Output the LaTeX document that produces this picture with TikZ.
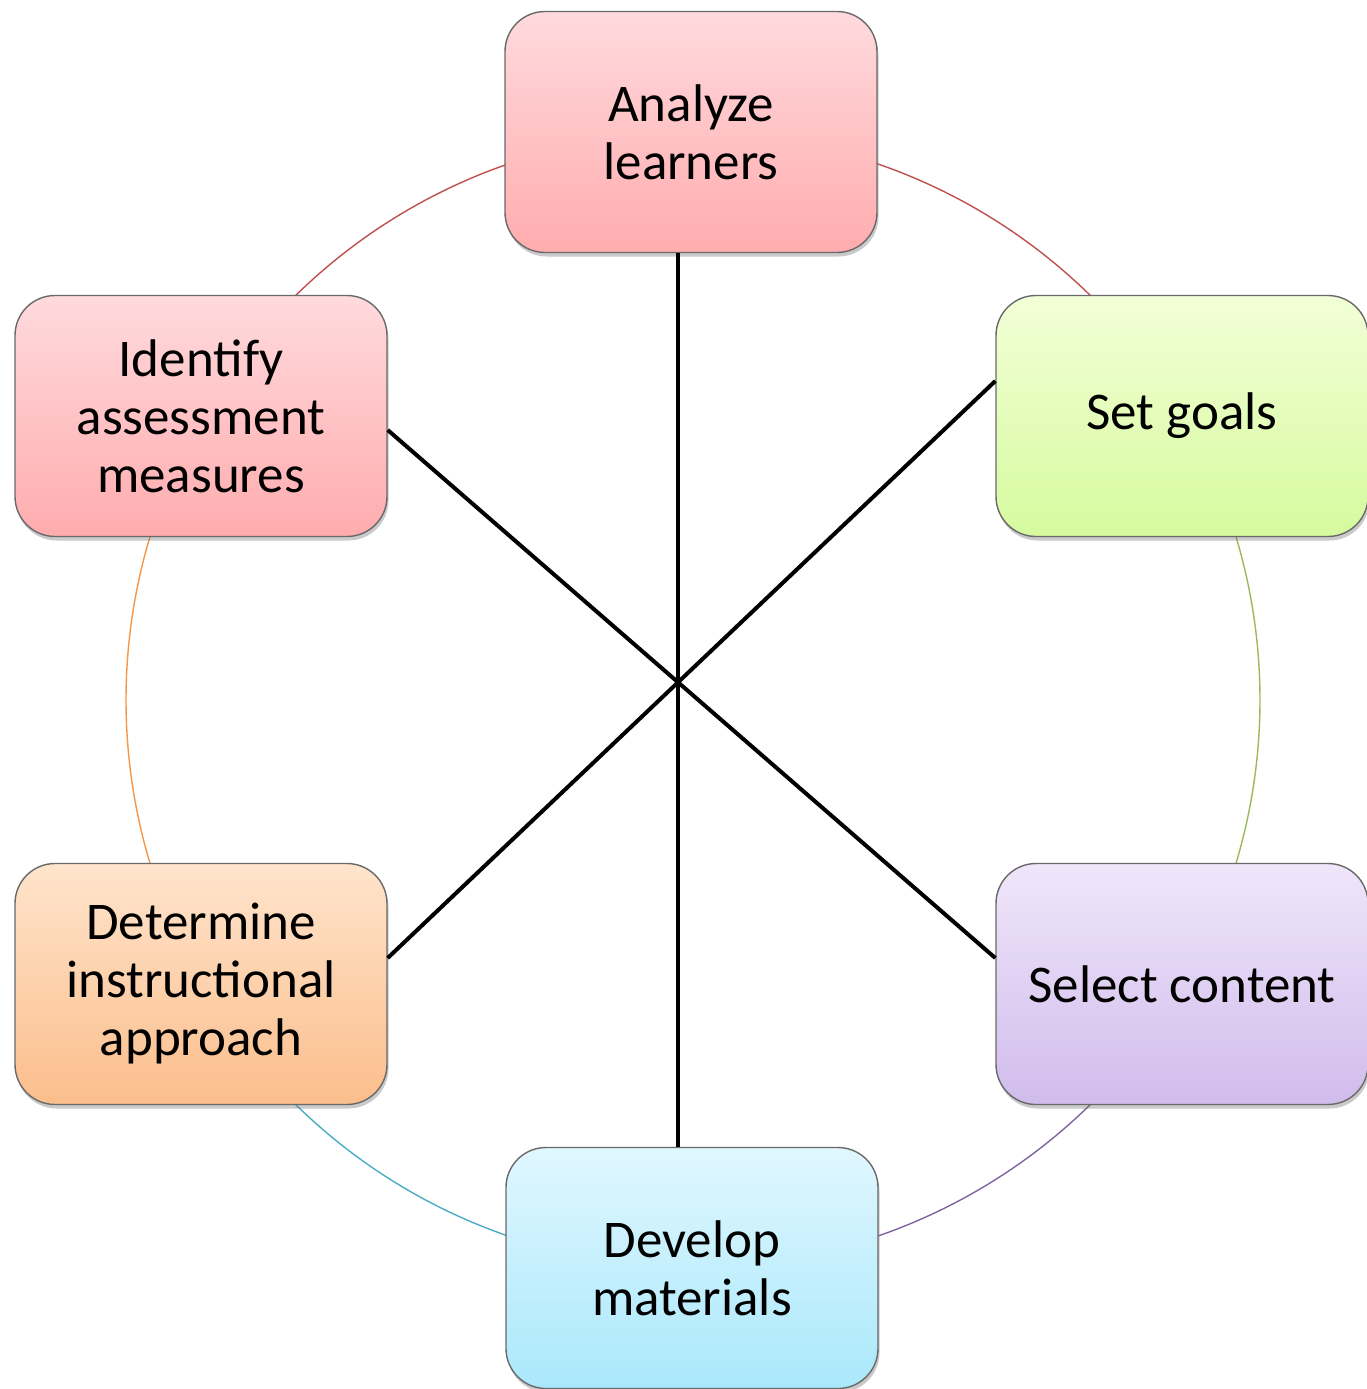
\documentclass[tikz,border=0pt]{standalone}
\usepackage{fontspec}
\setmainfont{Carlito}
\usetikzlibrary{shadows}

% box fills (top / bottom of the vertical gradient)
\definecolor{redtop}{RGB}{255,218,221}
\definecolor{redbot}{RGB}{255,172,174}
\definecolor{greentop}{RGB}{242,255,215}
\definecolor{greenbot}{RGB}{214,250,158}
\definecolor{purpletop}{RGB}{240,230,250}
\definecolor{purplebot}{RGB}{208,188,236}
\definecolor{cyantop}{RGB}{224,247,255}
\definecolor{cyanbot}{RGB}{170,232,251}
\definecolor{orangetop}{RGB}{255,228,204}
\definecolor{orangebot}{RGB}{251,190,140}
% ring segment colours
\definecolor{ringred}{RGB}{192,80,77}
\definecolor{ringgreen}{RGB}{155,187,89}
\definecolor{ringpurple}{RGB}{128,100,162}
\definecolor{ringcyan}{RGB}{75,172,198}
\definecolor{ringorange}{RGB}{247,150,70}
\definecolor{boxborder}{RGB}{105,105,105}

\tikzset{
  stage/.style={rectangle, rounded corners=40pt, minimum width=372pt,
    minimum height=241pt, inner sep=4pt, align=center,
    draw=boxborder, line width=1.4pt,
    font=\fontsize{53pt}{58pt}\selectfont,
    drop shadow={shadow xshift=1.5pt, shadow yshift=-4pt, opacity=0.35, fill=black!60}},
  ring/.style={line width=1.4pt},
  spoke/.style={line width=4pt, black},
}

\begin{document}
\begin{tikzpicture}[x=1pt,y=1pt]
\useasboundingbox (0,0) rectangle (1366,-1389);

% coloured ring behind the boxes
\def\cx{693}\def\cy{-700}\def\rr{567}
\draw[ring, ringred]    (\cx,\cy) ++(30:\rr)   arc[start angle=30,  end angle=90,  radius=\rr];
\draw[ring, ringgreen]  (\cx,\cy) ++(-30:\rr)  arc[start angle=-30, end angle=30,  radius=\rr];
\draw[ring, ringpurple] (\cx,\cy) ++(-90:\rr)  arc[start angle=-90, end angle=-30, radius=\rr];
\draw[ring, ringcyan]   (\cx,\cy) ++(-150:\rr) arc[start angle=-150,end angle=-90, radius=\rr];
\draw[ring, ringorange] (\cx,\cy) ++(150:\rr)  arc[start angle=150, end angle=210, radius=\rr];
\draw[ring, ringred]    (\cx,\cy) ++(90:\rr)   arc[start angle=90,  end angle=150, radius=\rr];

% the six stages
\node[stage, top color=redtop,    bottom color=redbot]    (an) at (691,-132)  {Analyze\\learners};
\node[stage, top color=greentop,  bottom color=greenbot]  (sg) at (1182,-416) {Set goals};
\node[stage, top color=purpletop, bottom color=purplebot] (sc) at (1182,-984) {Select content};
\node[stage, top color=cyantop,   bottom color=cyanbot]   (dv) at (692,-1268) {Develop\\materials};
\node[stage, top color=orangetop, bottom color=orangebot] (dt) at (201,-984)  {Determine\\instructional\\approach};
\node[stage, top color=redtop,    bottom color=redbot]    (id) at (201,-416)  {Identify\\assessment\\measures};

% spokes joining opposite stages
\draw[spoke] ([xshift=-13pt]an.south) -- ([xshift=-14pt]dv.north);
\draw[spoke] ([yshift=-14pt]id.east) -- ([yshift=26pt]sc.west);
\draw[spoke] ([yshift=35pt]sg.west) -- ([yshift=26pt]dt.east);
\end{tikzpicture}
\end{document}
